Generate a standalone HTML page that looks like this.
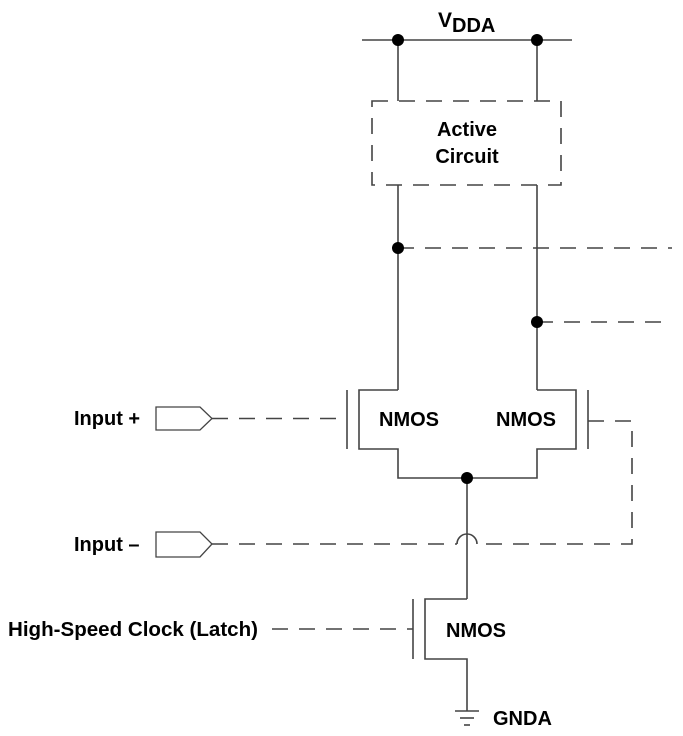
<!DOCTYPE html>
<html><head><style>
html,body{margin:0;padding:0;background:#fff;}
svg{display:block;}
text{font-family:"Liberation Sans",Arial,sans-serif;font-weight:bold;fill:#000;}
</style></head><body>
<svg width="683" height="736" viewBox="0 0 683 736" xmlns="http://www.w3.org/2000/svg">
<g fill="none" stroke="#444" stroke-width="1.6">
<line x1="362" y1="40" x2="572" y2="40"/>
<line x1="398" y1="40" x2="398" y2="101"/>
<line x1="537" y1="40" x2="537" y2="101"/>
<line x1="398" y1="185" x2="398" y2="390"/>
<line x1="537" y1="185" x2="537" y2="390"/>
<polyline points="398,390 359,390 359,449 398,449 398,478 537,478 537,449 576,449 576,390 537,390"/>
<line x1="347" y1="390" x2="347" y2="449"/>
<line x1="588" y1="390" x2="588" y2="449"/>
<line x1="467" y1="478" x2="467" y2="535"/>
<path d="M457,544 A10,10 0 0 1 477,544"/>
<line x1="467" y1="535" x2="467" y2="599"/>
<polyline points="467,599 425,599 425,659 467,659 467,711"/>
<line x1="413" y1="599" x2="413" y2="659"/>
<line x1="455" y1="711" x2="479" y2="711"/>
<line x1="460" y1="718" x2="474" y2="718"/>
<line x1="464" y1="725" x2="470" y2="725"/>
<polygon points="156,407 200,407 212,418.5 200,430 156,430" stroke-width="1.3"/>
<polygon points="156,532 200,532 212,544 200,557 156,557" stroke-width="1.3"/>
</g>
<g fill="none" stroke="#444" stroke-width="1.6" stroke-dasharray="16,11">
<rect x="372" y="101" width="189" height="84"/>
<line x1="398" y1="248" x2="672" y2="248"/>
<line x1="537" y1="322" x2="672" y2="322"/>
<line x1="212" y1="418.5" x2="347" y2="418.5"/>
<polyline points="588,421 632,421 632,544 477,544"/>
<line x1="212" y1="544" x2="457" y2="544"/>
<line x1="272" y1="629" x2="413" y2="629"/>
</g>
<g fill="#000">
<circle cx="398" cy="40" r="6"/>
<circle cx="537" cy="40" r="6"/>
<circle cx="398" cy="248" r="6"/>
<circle cx="537" cy="322" r="6"/>
<circle cx="467" cy="478" r="6"/>
</g>
<text x="438" y="27" font-size="21">V<tspan font-size="20" dy="5">DDA</tspan></text>
<text x="467" y="136" font-size="20" text-anchor="middle">Active</text>
<text x="467" y="163" font-size="20" text-anchor="middle">Circuit</text>
<text x="409" y="426" font-size="20" text-anchor="middle">NMOS</text>
<text x="526" y="426" font-size="20" text-anchor="middle">NMOS</text>
<text x="446" y="637" font-size="20">NMOS</text>
<text x="493" y="725" font-size="20">GNDA</text>
<text x="74" y="425" font-size="20">Input +</text>
<text x="74" y="551" font-size="20">Input –</text>
<text x="8" y="636" font-size="20" textLength="250" lengthAdjust="spacingAndGlyphs">High-Speed Clock (Latch)</text>
</svg>
</body></html>
